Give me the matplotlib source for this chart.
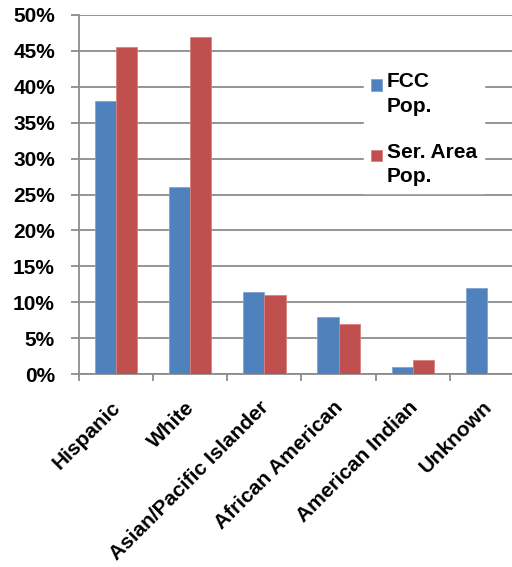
import matplotlib
matplotlib.use("Agg")
import matplotlib.pyplot as plt
import matplotlib.transforms as mtransforms
import numpy as np
from matplotlib.ticker import FixedLocator

categories = ["Hispanic", "White", "Asian/Pacific Islander", "African American", "American Indian", "Unknown"]
fcc_pop = [38, 26, 11.4, 8, 1, 12]
ser_area_pop = [45.5, 47, 11, 7, 2, 0]
series_names = ["FCC\nPop.", "Ser. Area\nPop."]
y_ticks = list(range(0, 51, 5))
y_tick_labels = [f"{v}%" for v in y_ticks]

plt.rcParams['font.family'] = ['Liberation Sans', 'DejaVu Sans']

DPI = 100
fig = plt.figure(figsize=(5.12, 5.67), dpi=DPI)
ax = fig.add_axes([79/512, (567-374)/567, (524-79)/512, (374-15)/567])

x = np.arange(len(categories))
w = 0.285
ax.bar(x - w/2, fcc_pop, w, color="#4F81BD", edgecolor="#7FA3D0", linewidth=0.6, label=series_names[0], zorder=3)
ax.bar(x + w/2, ser_area_pop, w, color="#C0504D", edgecolor="#D8817F", linewidth=0.6, label=series_names[1], zorder=3)

ax.set_xlim(-0.5, len(categories) - 0.5)
ax.set_ylim(0, 50)
ax.set_yticks(y_ticks, labels=y_tick_labels, fontsize=15, fontweight='bold')
ax.grid(axis='y', color='#8C8C8C', linewidth=1.3, zorder=0)

ax.set_xticks(x, labels=categories, rotation=45, ha='right', rotation_mode='anchor', fontsize=15, fontweight='bold')
ax.xaxis.set_minor_locator(FixedLocator(np.arange(-0.5, len(categories), 1)))
ax.tick_params(axis='x', which='major', length=0, pad=17)
ax.tick_params(axis='x', which='minor', length=5, color='#8C8C8C', width=1.3)
ax.tick_params(axis='y', length=5.8, color='#8C8C8C', width=1.3, pad=11.5)
shift = mtransforms.ScaledTranslation(-5/DPI, 0, fig.dpi_scale_trans)
for lab in ax.get_xticklabels():
    lab.set_transform(lab.get_transform() + shift)

for s in ['top', 'right']:
    ax.spines[s].set_visible(False)
for s in ['left', 'bottom']:
    ax.spines[s].set_color('#8C8C8C')
    ax.spines[s].set_linewidth(1.3)

leg = ax.legend(loc='upper left', bbox_to_anchor=(364/512, 1 - 65/567), bbox_transform=fig.transFigure,
                frameon=True, fancybox=False, prop={'size': 15, 'weight': 'bold'},
                handlelength=0.5, handleheight=0.5,
                handletextpad=0.25, labelspacing=1.3, borderpad=0.35, borderaxespad=0)
leg.get_frame().set_facecolor('white')
leg.get_frame().set_edgecolor('white')
leg.get_frame().set_alpha(1)
for t in leg.get_texts():
    t.set_linespacing(1.35)

fig.canvas.draw()
r = fig.canvas.get_renderer()
for t, h in zip(leg.get_texts(), leg.legend_handles):
    tb = t.get_window_extent(r)
    hb = h.get_window_extent(r)
    dy_px = (tb.y1 - 7) - hb.y1
    h.set_y(h.get_y() + dy_px * 72 / DPI)

fig.savefig("out.png", dpi=DPI)
